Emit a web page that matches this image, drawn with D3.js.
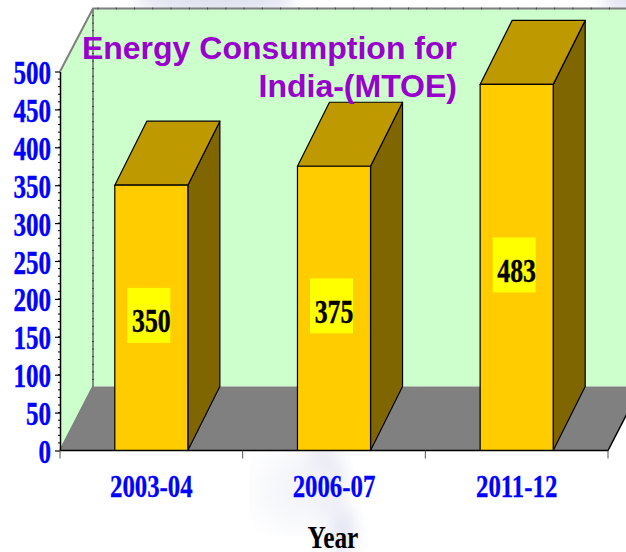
<!DOCTYPE html>
<html>
<head>
<meta charset="utf-8">
<script src="https://cdn.jsdelivr.net/npm/d3@7"></script>
<style>
    html, body { margin: 0; padding: 0; background: #fff; overflow: hidden; }
    svg { display: block; }
</style>
</head>
<body>
<svg id="chart" width="626" height="552"></svg>
<script>
const categories = ["2003-04", "2006-07", "2011-12"];
const values = [350, 375, 483];
const yTicks = [0, 50, 100, 150, 200, 250, 300, 350, 400, 450, 500];
const titleLines = ["Energy Consumption for", "India-(MTOE)"];

const svg = d3.select("#chart");

const xLeft = 60, xRight = 608, yBottom = 450.5, yTop = 71.5;
// 3d offset of the back wall and of the bars
const dx = 33, dy = -64, barDx = 32;

const x = d3.scaleBand().domain(categories).range([xLeft, xRight]).paddingInner(0).paddingOuter(0);
const y = d3.scaleLinear().domain([0, 500]).range([yBottom, yTop]);
const barWidth = x.bandwidth() * 0.4;
const wallTop = y(500) + dy + 1;
const wallBottom = y(0) + dy;
const poly = (pts) => d3.line()(pts) + "Z";

// Faint watermark behind the chart
const defs = svg.append("defs");
defs.append("filter").attr("id", "blur").append("feGaussianBlur").attr("stdDeviation", 8);
defs.append("filter").attr("id", "blurWide").append("feGaussianBlur").attr("stdDeviation", 16);
const mark = svg.append("g").attr("filter", "url(#blur)").attr("fill", "#dfe1f0");
mark.append("ellipse").attr("cx", 215).attr("cy", 0).attr("rx", 80).attr("ry", 14);
mark.append("ellipse").attr("cx", 625).attr("cy", 0).attr("rx", 22).attr("ry", 12);
mark.append("ellipse").attr("cx", 322).attr("cy", 480).attr("rx", 20).attr("ry", 34).attr("fill", "#e2e4f2");
mark.append("ellipse").attr("cx", 342).attr("cy", 530).attr("rx", 12).attr("ry", 26).attr("fill", "#e2e4f2");
svg.append("ellipse").attr("filter", "url(#blurWide)").attr("fill", "#f4f5fa")
    .attr("cx", 300).attr("cy", 490).attr("rx", 42).attr("ry", 38);

// Walls and floor
svg.append("path")
    .attr("fill", "#CCFFCC")
    .attr("d", poly([[xLeft, y(0)], [xLeft, y(500)], [xLeft + dx, wallTop], [xRight + dx + 20, wallTop], [xRight + dx + 20, wallBottom], [xLeft + dx, wallBottom]]));
svg.append("path")
    .attr("fill", "#808080")
    .attr("d", poly([[xLeft, y(0)], [xLeft + dx, wallBottom], [xRight + dx, wallBottom], [xRight, y(0)]]));

// Grey wall edges
const edge = svg.append("g").attr("stroke", "#7f7f7f").attr("fill", "none");
edge.append("path").attr("stroke-width", 2).attr("d", d3.line()([[xLeft, y(500)], [xLeft + dx, wallTop], [626, wallTop]]));
edge.append("path").attr("stroke-width", 1.8).attr("d", d3.line()([[xLeft + dx, wallTop], [xLeft + dx, wallBottom], [xLeft, y(0)]]));

// Small ticks along the back wall
const minor = d3.range(10, 500, 10);
svg.append("g").attr("stroke", "#444").attr("stroke-width", 1)
    .selectAll("line").data(minor).join("line")
    .attr("x1", xLeft + dx - 1).attr("x2", xLeft + dx + 1)
    .attr("y1", d => y(d) + dy + 0.5).attr("y2", d => y(d) + dy + 0.5);
const topTicks = d3.range(0, 30).map(i => xLeft + dx + 5 + i * x.bandwidth() / 10);
svg.append("g").attr("stroke", "#444").attr("stroke-width", 1)
    .selectAll("line").data(topTicks).join("line")
    .attr("x1", d => d).attr("x2", d => d)
    .attr("y1", wallTop - 1).attr("y2", wallTop + 1);

// Bars, back to front: side, top, front
const bars = svg.append("g").selectAll("g").data(values).join("g")
    .attr("stroke", "#000").attr("stroke-width", 1.2).attr("stroke-linejoin", "round");
const barX = (d, i) => x(categories[i]) + (x.bandwidth() - barWidth) / 2;

bars.append("path")
    .attr("fill", "#806600")
    .attr("d", (d, i) => {
        const x1 = barX(d, i) + barWidth;
        return poly([[x1, y(0)], [x1, y(d)], [x1 + barDx, y(d) + dy], [x1 + barDx, wallBottom]]);
    });
bars.append("path")
    .attr("fill", "#BF9900")
    .attr("d", (d, i) => {
        const x0 = barX(d, i), x1 = x0 + barWidth;
        return poly([[x0, y(d)], [x0 + barDx, y(d) + dy], [x1 + barDx, y(d) + dy], [x1, y(d)]]);
    });
bars.append("rect")
    .attr("fill", "#FFCC00")
    .attr("x", barX)
    .attr("y", d => y(d))
    .attr("width", barWidth)
    .attr("height", d => y(0) - y(d));

// Value labels on yellow boxes
const labels = svg.append("g").selectAll("g").data(values).join("g")
    .attr("transform", (d, i) => `translate(${x(categories[i]) + x.bandwidth() / 2},${(y(d) + y(0)) / 2 - 2.5})`);
labels.append("rect")
    .attr("x", -24).attr("y", -27.5)
    .attr("width", 43).attr("height", 55)
    .attr("fill", "#FFFF00");
labels.append("text")
    .attr("transform", "translate(0,17) scale(0.78,1)")
    .attr("text-anchor", "middle")
    .attr("font-family", "Liberation Serif")
    .attr("font-weight", "bold")
    .attr("font-size", 33)
    .attr("fill", "#000")
    .attr("stroke", "#000")
    .attr("stroke-width", 0.4)
    .text(d => d);

// Axes
const yAxis = svg.append("g")
    .attr("transform", `translate(${xLeft},0)`)
    .call(d3.axisLeft(y).tickValues(yTicks).tickSize(5).tickSizeOuter(0));
yAxis.select(".domain").attr("stroke", "#000").attr("stroke-width", 1.5);
yAxis.selectAll(".tick line").attr("stroke", "#000").attr("stroke-width", 1.2);
yAxis.selectAll(".tick text")
    .attr("x", null).attr("dy", null)
    .attr("transform", "translate(-9,12) scale(0.76,1)")
    .attr("text-anchor", "end")
    .attr("font-family", "Liberation Serif")
    .attr("font-weight", "bold")
    .attr("font-size", 33)
    .attr("fill", "#0000FF")
    .attr("stroke", "#0000FF")
    .attr("stroke-width", 0.4);
svg.append("g").attr("stroke", "#000").attr("stroke-width", 1)
    .selectAll("line").data(minor).join("line")
    .attr("x1", xLeft - 2).attr("x2", xLeft)
    .attr("y1", d => y(d)).attr("y2", d => y(d));

const xEdges = [xLeft, ...categories.map(c => x(c) + x.bandwidth())];
svg.append("path")
    .attr("stroke", "#000").attr("stroke-width", 1.5).attr("fill", "none")
    .attr("d", d3.line()([[xLeft, y(0)], [xRight, y(0)], [xRight + dx, wallBottom]]));
svg.append("g").attr("stroke", "#555").attr("stroke-width", 1)
    .selectAll("line").data(xEdges).join("line")
    .attr("x1", d => d).attr("x2", d => d)
    .attr("y1", y(0)).attr("y2", y(0) + 8);

svg.append("g").selectAll("text").data(categories).join("text")
    .attr("transform", d => `translate(${x(d) + x.bandwidth() / 2},497) scale(0.8,1)`)
    .attr("text-anchor", "middle")
    .attr("font-family", "Liberation Serif")
    .attr("font-weight", "bold")
    .attr("font-size", 31)
    .attr("fill", "#0000FF")
    .attr("stroke", "#0000FF")
    .attr("stroke-width", 0.3)
    .text(d => d);

svg.append("text")
    .attr("transform", "translate(333,548) scale(0.82,1)")
    .attr("text-anchor", "middle")
    .attr("font-family", "Liberation Serif")
    .attr("font-weight", "bold")
    .attr("font-size", 31)
    .attr("fill", "#000")
    .text("Year");

// Title
svg.append("g").selectAll("text").data(titleLines).join("text")
    .attr("x", 457)
    .attr("y", (d, i) => 59 + i * 38)
    .attr("text-anchor", "end")
    .attr("font-family", "Liberation Sans")
    .attr("font-weight", "bold")
    .attr("font-size", 32)
    .attr("fill", "#9900CC")
    .text(d => d);
</script>
</body>
</html>
